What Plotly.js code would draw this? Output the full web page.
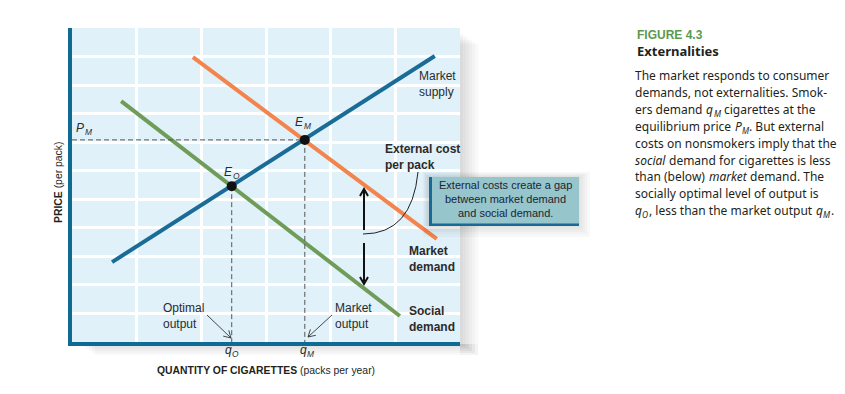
<!DOCTYPE html>
<html><head><meta charset="utf-8">
<script src="https://cdn.plot.ly/plotly-3.0.1.min.js"></script>
<style>html,body{margin:0;padding:0;background:#fff}#chart{width:845px;height:394px}</style>
</head><body><div id="chart"></div>
<script>
// ---- Data (x: quantity units, y: price units) ----
const supplyX = [0.62, 5.61];
const supplyY = [2.80, 10.02];
const marketDemandX = [1.87, 5.64];
const marketDemandY = [9.98, 3.61];
const socialDemandX = [0.76, 5.07];
const socialDemandY = [8.44, 0.91];
const equilibriumLetters = [['E', 'M'], ['E', 'O']];
const equilibriumX = [3.60, 2.47];
const equilibriumY = [7.08, 5.46];
const tickLabels = [['q', 'M'], ['q', 'O']];
const priceLabel = ['P', 'M'];
const X_MAX = 6, Y_MAX = 11;

// ---- geometry helpers ----
const L = 72, R = 460, T = 28, B = 342;
const px = x => (x - L) / (R - L);
const py = y => (B - y) / (B - T);
const xpix = v => L + v * (R - L) / X_MAX;
const ypix = v => B - v * (B - T) / Y_MAX;

const font = '"Liberation Sans", Arial, sans-serif';
const textFont = '"Noto Sans", "Open Sans", sans-serif';
const dark = '#231f20';
const ink = '#2b2b2b';

const traces = [
  {x: supplyX, y: supplyY, mode: 'lines', line: {color: '#1a6c97', width: 4}, name: 'Market supply'},
  {x: marketDemandX, y: marketDemandY, mode: 'lines', line: {color: '#f3844c', width: 4}, name: 'Market demand'},
  {x: socialDemandX, y: socialDemandY, mode: 'lines', line: {color: '#6f9c58', width: 4}, name: 'Social demand'},
  {x: [0, equilibriumX[0]], y: [equilibriumY[0], equilibriumY[0]], mode: 'lines', line: {color: '#555', width: 1, dash: '5px,3px'}},
  {x: [equilibriumX[0], equilibriumX[0]], y: [equilibriumY[0], 0], mode: 'lines', line: {color: '#555', width: 1, dash: '5px,3px'}},
  {x: [equilibriumX[1], equilibriumX[1]], y: [equilibriumY[1], 0], mode: 'lines', line: {color: '#555', width: 1, dash: '5px,3px'}},
  {x: equilibriumX, y: equilibriumY, mode: 'markers', marker: {color: '#111', size: 10}}
];

function arrowPath(x1, y1, x2, y2, len) {
  const dx = x2 - x1, dy = y2 - y1, d = Math.hypot(dx, dy);
  const ux = dx / d, uy = dy / d, a = Math.PI / 6;
  const h1x = x2 - len * (ux * Math.cos(a) - uy * Math.sin(a));
  const h1y = y2 - len * (uy * Math.cos(a) + ux * Math.sin(a));
  const h2x = x2 - len * (ux * Math.cos(a) + uy * Math.sin(a));
  const h2y = y2 - len * (uy * Math.cos(a) - ux * Math.sin(a));
  const P = (x, y) => px(x) + ',' + py(y);
  return `M ${P(x1, y1)} L ${P(x2, y2)} M ${P(h1x, h1y)} L ${P(x2, y2)} L ${P(h2x, h2y)}`;
}

const rectPx = (x0, x1, y0, y1, fill, layer) => ({type: 'rect', xref: 'paper', yref: 'paper', layer: layer || 'above',
  x0: px(x0), x1: px(x1), y0: py(y1), y1: py(y0), fillcolor: fill, line: {width: 0}});

const shapes = [];
// plot drop shadow (soft)
for (let i = 0; i < 6; i++) {
  shapes.push(rectPx(R, R + 3 + i * 3, 34 + i * 2, B + 3 + i * 2, 'rgba(0,0,0,0.022)', 'below'));
  shapes.push(rectPx(80 + i * 3, R + 3 + i * 3, B + 2, B + 3 + i * 2, 'rgba(0,0,0,0.022)', 'below'));
}
// callout box shadow + box
for (let i = 0; i < 5; i++) {
  shapes.push(rectPx(427 - i, 580 + i * 2.5, 176 - i, 227 + i * 2.5, 'rgba(0,0,0,0.025)'));
}
shapes.push(rectPx(429, 579, 177, 226, '#96c5cc'));
shapes.push(rectPx(429, 432, 177, 226, '#176b94'));
shapes.push(rectPx(429, 579, 223.5, 226, '#176b94'));
// callout curve
shapes.push({type: 'path', xref: 'paper', yref: 'paper',
  path: `M ${px(418)},${py(172)} Q ${px(412)},${py(234)} ${px(363)},${py(234)}`,
  line: {color: '#222', width: 1}});
// external cost double arrow
shapes.push({type: 'path', xref: 'paper', yref: 'paper', path: arrowPath(364, 230, 364, 189, 8), line: {color: '#111', width: 2}});
shapes.push({type: 'path', xref: 'paper', yref: 'paper', path: arrowPath(364, 243, 364, 284, 8), line: {color: '#111', width: 2}});
// output pointer arrows
shapes.push({type: 'path', xref: 'paper', yref: 'paper', path: arrowPath(207, 315, 231, 338, 8), line: {color: '#333', width: 0.9}});
shapes.push({type: 'path', xref: 'paper', yref: 'paper', path: arrowPath(332, 315, 308, 337, 8), line: {color: '#333', width: 0.9}});

function txt(text, x, y, opts = {}) {
  return Object.assign({text, xref: 'paper', yref: 'paper', x: px(x), y: py(y), showarrow: false,
    xanchor: 'left', yanchor: 'middle', align: 'left',
    font: {family: font, size: 12, color: ink}}, opts);
}

// ---- rich text line: segments [text, kind] kind: n normal, i italic, s italic subscript ----
const ctx = document.createElement('canvas').getContext('2d');
function measure(t, size, family, italic) {
  ctx.font = `${italic ? 'italic ' : ''}${size}px ${family}`;
  return ctx.measureText(t).width;
}
function richLine(segs, x, y, o) {
  const size = o.size, family = o.family, color = o.color;
  const sz = k => k === 's' ? size * 0.7 : size;
  const widths = segs.map(([t, k]) => measure(t, sz(k), family, k !== 'n'));
  const total = widths.reduce((a, b) => a + b, 0) + 0.5 * (segs.length - 1);
  let cur = o.anchor === 'center' ? x - total / 2 : x;
  const out = [];
  segs.forEach(([t, k], j) => {
    const lead = t.match(/^\s*/)[0];
    const trimmed = t.trim();
    if (trimmed) {
      const off = lead ? measure(lead, sz(k), family, k !== 'n') : 0;
      out.push({text: trimmed, xref: 'paper', yref: 'paper', x: px(cur + off), y: py(y), showarrow: false,
        xanchor: 'left', yanchor: 'middle', borderpad: 0, borderwidth: 0, yshift: k === 's' ? -4 : 0,
        font: {family, size: sz(k), color, style: k === 'n' ? 'normal' : 'italic'}});
    }
    cur += widths[j] + 0.5;
  });
  return out;
}

const chartText = {size: 12, family: font, color: ink};
const annotations = [
  ...richLine([[priceLabel[0], 'i'], [priceLabel[1], 's']], 76, 128, chartText),
  ...richLine([[equilibriumLetters[0][0], 'i'], [equilibriumLetters[0][1], 's']],
    xpix(equilibriumX[0]) - 2, ypix(equilibriumY[0]) - 18, Object.assign({anchor: 'center'}, chartText)),
  ...richLine([[equilibriumLetters[1][0], 'i'], [equilibriumLetters[1][1], 's']],
    xpix(equilibriumX[1]), ypix(equilibriumY[1]) - 14, Object.assign({anchor: 'center'}, chartText)),
  ...richLine([[tickLabels[0][0], 'i'], [tickLabels[0][1], 's']], xpix(equilibriumX[0]) + 2, 350, Object.assign({anchor: 'center'}, chartText)),
  ...richLine([[tickLabels[1][0], 'i'], [tickLabels[1][1], 's']], xpix(equilibriumX[1]), 350, Object.assign({anchor: 'center'}, chartText)),
  txt('Market<br>supply', 417, 84),
  txt('<b>External cost<br>per pack</b>', 383, 157),
  txt('<b>Market<br>demand</b>', 407, 259),
  txt('<b>Social<br>demand</b>', 407, 319),
  txt('Optimal<br>output', 161, 316),
  txt('Market<br>output', 333, 316),
  // callout text
  txt('External costs create a gap', 505, 185, {xanchor: 'center', font: {family: font, size: 11, color: '#1c2433'}}),
  txt('between market demand', 505, 199, {xanchor: 'center', font: {family: font, size: 11, color: '#1c2433'}}),
  txt('and social demand.', 505, 213, {xanchor: 'center', font: {family: font, size: 11, color: '#1c2433'}}),
  // axis titles
  txt('<b>QUANTITY OF CIGARETTES</b> (packs per year)', 266, 370, {xanchor: 'center', font: {family: font, size: 10.4, color: dark}}),
  txt('<b>PRICE</b> (per pack)', 58, 183, {xanchor: 'center', textangle: -90, font: {family: font, size: 10.4, color: dark}}),
  // right panel
  txt('<b>FIGURE 4.3</b>', 635, 35, {font: {family: font, size: 12, color: '#5b9a4d'}}),
  txt('<b>Externalities</b>', 635, 51, {font: {family: textFont, size: 13, color: dark}})
];

const para = [
  [['The market responds to consumer', 'n']],
  [['demands, not externalities. Smok-', 'n']],
  [['ers demand ', 'n'], ['q', 'i'], ['M', 's'], [' cigarettes at the', 'n']],
  [['equilibrium price ', 'n'], ['P', 'i'], ['M', 's'], ['. But external', 'n']],
  [['costs on nonsmokers imply that the', 'n']],
  [['social', 'i'], [' demand for cigarettes is less', 'n']],
  [['than (below) ', 'n'], ['market', 'i'], [' demand. The', 'n']],
  [['socially optimal level of output is', 'n']],
  [['q', 'i'], ['O', 's'], [', less than the market output ', 'n'], ['q', 'i'], ['M', 's'], ['.', 'n']]
];
const paraText = {size: 12, family: textFont, color: dark};
para.forEach((segs, i) => annotations.push(...richLine(segs, 635, 76 + i * 16.8, paraText)));

const layout = {
  width: 845, height: 394,
  margin: {l: L, r: 845 - R, t: T, b: 394 - B},
  paper_bgcolor: '#fff', plot_bgcolor: '#e0f1fa',
  showlegend: false,
  xaxis: {range: [0, X_MAX], dtick: 1, showticklabels: false, ticks: '', zeroline: false,
    showgrid: true, gridcolor: '#fff', gridwidth: 3, showline: true, linecolor: '#0f6b93', linewidth: 4, fixedrange: true},
  yaxis: {range: [0, Y_MAX], dtick: 1, showticklabels: false, ticks: '', zeroline: false,
    showgrid: true, gridcolor: '#fff', gridwidth: 3, showline: true, linecolor: '#0f6b93', linewidth: 4, fixedrange: true},
  shapes, annotations
};

Plotly.newPlot('chart', traces, layout, {displayModeBar: false});
</script>
</body></html>
